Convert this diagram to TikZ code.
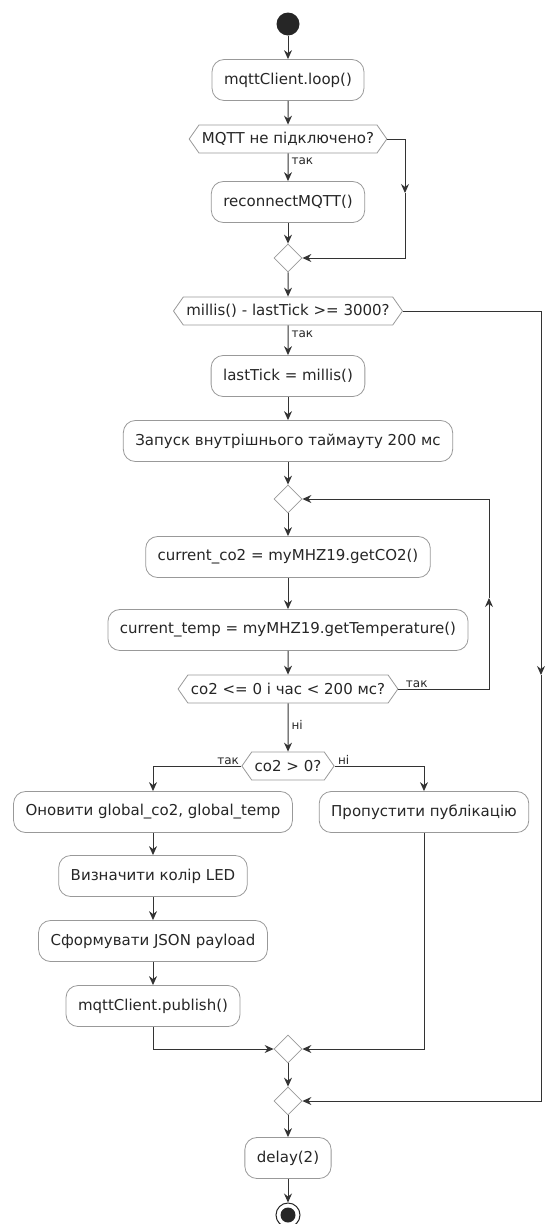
\documentclass[tikz,border=0pt]{standalone}
\usepackage{fontspec}
\setmainfont{DejaVu Sans}
\usetikzlibrary{arrows.meta, positioning, shapes.geometric, shapes.symbols}

\begin{document}
\begin{tikzpicture}[
    x=1pt, y=-1pt,
    action/.style={rectangle, rounded corners=12pt, draw=black!40, fill=white, line width=0.8pt,
        minimum height=41pt, inner xsep=12pt, font=\fontsize{15}{17}\selectfont, text=black!85},
    decision/.style={signal, signal to=east and west, signal pointer angle=110, draw=black!40,
        fill=white, line width=0.8pt, minimum height=28pt, inner xsep=3pt, inner ysep=0pt,
        font=\fontsize{15}{17}\selectfont, text=black!85},
    merge/.style={diamond, draw=black!40, fill=white, line width=0.8pt, minimum size=28pt, inner sep=0pt},
    arrow/.style={-{Stealth[length=9pt, width=8pt, inset=3pt]}, line width=1pt, draw=black!80},
    lbl/.style={font=\fontsize{12}{14}\selectfont, inner sep=1pt, text=black!85}
]
\useasboundingbox (0,0) rectangle (544,1224);

% Start and end
\node[circle, fill=black!85, minimum size=23pt, inner sep=0pt] (start) at (288,24) {};
\node[circle, draw=black!85, line width=1pt, minimum size=24pt, inner sep=0pt,
    path picture={\fill[black!85] (path picture bounding box.center) circle (7.5pt);}] (stop) at (288,1215) {};

% Nodes: main column
\node[action] (loop) at (288,80) {mqttClient.loop()};
\node[decision] (mqttq) at (288,139) {MQTT не підключено?};
\node[action] (reconn) at (288,202) {reconnectMQTT()};
\node[merge] (m1) at (288,258) {};
\node[decision] (tickq) at (288,311) {millis() - lastTick >= 3000?};
\node[action] (tick) at (288,376) {lastTick = millis()};
\node[action] (timeout) at (288,441) {Запуск внутрішнього таймауту 200 мс};
\node[merge] (m2) at (288,499) {};
\node[action] (rdco) at (288,557) {current\_co2 = myMHZ19.getCO2()};
\node[action] (rdtemp) at (288,630) {current\_temp = myMHZ19.getTemperature()};
\node[decision] (retryq) at (288,689) {co2 <= 0 і час < 200 мс?};
\node[decision] (validq) at (288,766) {co2 > 0?};

% Nodes: branches
\node[action] (update) at (153,812) {Оновити global\_co2, global\_temp};
\node[action] (skip) at (424,812) {Пропустити публікацію};
\node[action] (led) at (153,876) {Визначити колір LED};
\node[action] (json) at (153,941) {Сформувати JSON payload};
\node[action] (pub) at (153,1006) {mqttClient.publish()};
\node[merge] (m3) at (288,1049) {};
\node[merge] (m4) at (288,1101) {};
\node[action] (delay) at (288,1158) {delay(2)};

% Corner points
\coordinate (byp) at (405,193);
\coordinate (retry) at (489,598);
\coordinate (skipall) at (541,675);

% Arrows
\draw[arrow] (start) -- (loop);
\draw[arrow] (loop) -- (mqttq);
\draw[arrow] (mqttq) -- node[lbl, pos=0.3, right=2pt] {так} (reconn);
\draw[arrow] (mqttq.east) -| (byp);
\draw[arrow] (byp) |- (m1.east);
\draw[arrow] (reconn) -- (m1);
\draw[arrow] (m1) -- (tickq);
\draw[arrow] (tickq) -- node[lbl, pos=0.3, right=2pt] {так} (tick);
\draw[arrow] (tickq.east) -| (skipall);
\draw[arrow] (skipall) |- (m4.east);
\draw[arrow] (tick) -- (timeout);
\draw[arrow] (timeout) -- (m2);
\draw[arrow] (m2) -- (rdco);
\draw[arrow] (rdco) -- (rdtemp);
\draw[arrow] (rdtemp) -- (retryq);
\draw[arrow] (retryq.east) node[lbl, anchor=south west, xshift=6pt] {так} -| (retry);
\draw[arrow] (retry) |- (m2.east);
\draw[arrow] (retryq) -- node[lbl, pos=0.45, right=2pt] {ні} (validq);
\draw[arrow] (validq.west) node[lbl, anchor=south east, xshift=-1pt] {так} -| (update);
\draw[arrow] (validq.east) node[lbl, anchor=south west, xshift=2pt] {ні} -| (skip);
\draw[arrow] (update) -- (led);
\draw[arrow] (led) -- (json);
\draw[arrow] (json) -- (pub);
\draw[arrow] (pub) |- (m3.west);
\draw[arrow] (skip) |- (m3.east);
\draw[arrow] (m3) -- (m4);
\draw[arrow] (m4) -- (delay);
\draw[arrow] (delay) -- (stop);

\end{tikzpicture}
\end{document}
